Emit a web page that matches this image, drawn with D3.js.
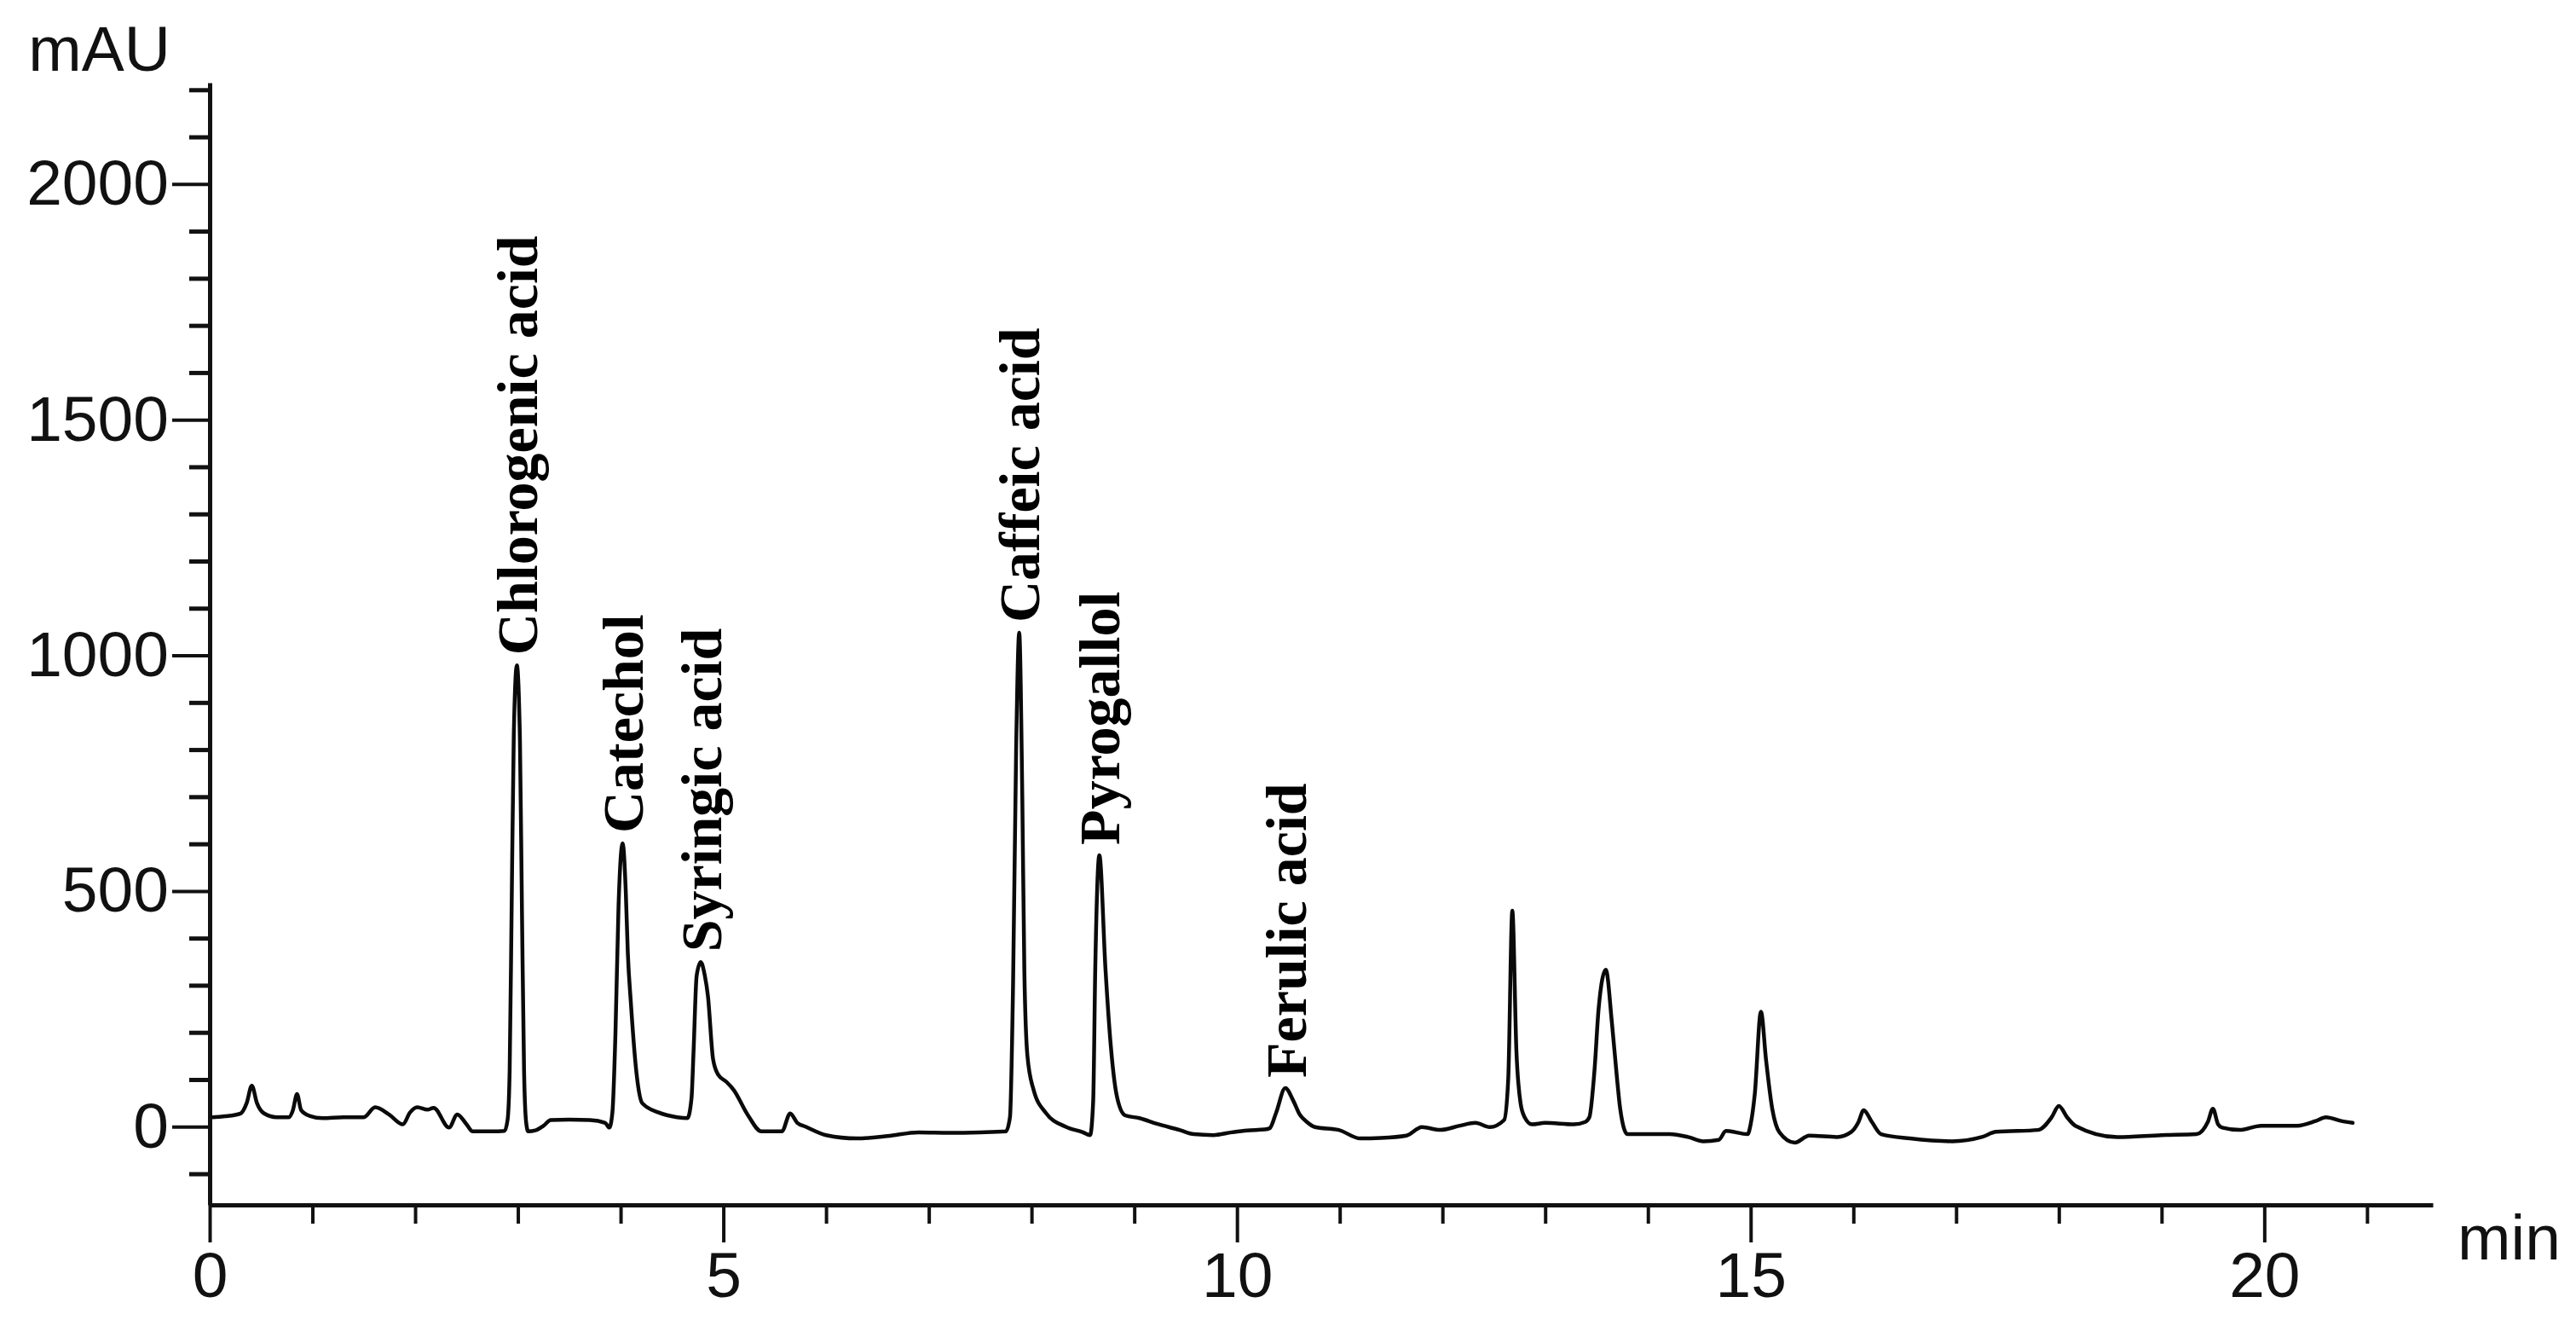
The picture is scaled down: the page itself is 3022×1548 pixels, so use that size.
<!DOCTYPE html>
<html>
<head>
<meta charset="utf-8">
<script src="https://cdn.jsdelivr.net/npm/d3@7"></script>
<style>
  html, body { margin: 0; padding: 0; background: #ffffff; }
  svg { display: block; }
</style>
</head>
<body>
<div id="chart"></div>
<script>
// DATA
const times = [
  0.03, 0.15, 0.30, 0.36, 0.41, 0.46, 0.53, 0.65, 0.77, 0.81, 0.85, 0.89, 0.97,
  1.10, 1.30, 1.50, 1.61, 1.75, 1.88, 1.95, 2.02, 2.12, 2.18, 2.33, 2.41, 2.50,
  2.56, 2.75, 2.87,
  2.90, 2.92, 2.94, 2.96, 2.99, 3.02, 3.04, 3.06, 3.08, 3.10, 3.17, 3.25, 3.32,
  3.50, 3.70, 3.85, 3.89,
  3.92, 3.95, 3.98, 4.02, 4.05, 4.07, 4.10, 4.16, 4.21, 4.37, 4.55, 4.65,
  4.69, 4.71, 4.74, 4.78, 4.82, 4.85, 4.90, 4.95, 5.03, 5.10, 5.24, 5.37, 5.57,
  5.65, 5.72, 5.80, 6.00, 6.30, 6.60, 6.90, 7.20, 7.50, 7.75,
  7.79, 7.82, 7.85, 7.88, 7.91, 7.93, 7.96, 8.02, 8.14, 8.33, 8.50, 8.57,
  8.60, 8.62, 8.66, 8.72, 8.77, 8.83, 8.91, 9.05, 9.22, 9.44, 9.58, 9.77, 9.95,
  10.10, 10.27, 10.32, 10.38,
  10.47, 10.55, 10.61, 10.68, 10.76, 10.99, 11.20, 11.40, 11.65, 11.80, 11.98,
  12.17, 12.32, 12.46, 12.60,
  12.64, 12.68, 12.72, 12.76, 12.80, 12.87, 13.00, 13.28, 13.39, 13.43, 13.48,
  13.52, 13.59, 13.65, 13.70, 13.73, 13.80, 14.21, 14.39, 14.54, 14.69, 14.76,
  14.97, 15.00, 15.04, 15.10, 15.15, 15.21, 15.28, 15.43, 15.57, 15.84, 15.98,
  16.05, 16.10, 16.18, 16.27, 16.55, 16.96, 17.25, 17.39, 17.80, 17.93, 18.00,
  18.08, 18.16, 18.57, 19.00, 19.34, 19.45, 19.50, 19.55, 19.59, 19.76, 19.97,
  20.32, 20.50, 20.60, 20.75, 20.86
];

const signal = [
  20, 22, 28, 50, 87, 50, 28, 20, 20, 35, 69, 35, 23,
  18, 20, 20, 41, 25, 5, 30, 41, 36, 40, -2, 26, 5,
  -10, -10, -9,
  15, 120, 480, 830, 979, 820, 450, 120, 10, -10, -8, 2, 14,
  15, 14, 8, -2,
  30, 200, 470, 601, 500, 369, 262, 103, 50, 30, 20, 18,
  60, 160, 320, 349, 320, 277, 143, 110, 95, 78, 24, -10, -10,
  28, 8, 0, -18, -25, -20, -12, -13, -12, -10,
  20, 300, 800, 1048, 700, 330, 150, 78, 29, 0, -12, -18,
  54, 333, 576, 333, 175, 65, 24, 18, 6, -7, -16, -18, -12,
  -8, -6, -3, 29,
  82, 54, 26, 10, -1, -7, -25, -24, -19, -1, -7,
  2, 8, -1, 14,
  100, 458, 159, 50, 20, 5, 8, 5, 10, 20, 120,
  250, 333, 219, 100, 38, -16, -16, -22, -31, -28, -9,
  -16, 5, 69, 244, 141, 38, -12, -34, -19, -22, -11,
  10, 35, 10, -16, -25, -31, -22, -11, -7, 20, 44,
  20, 2, -22, -18, -16, 10, 38, 5, -2, -7, 2,
  2, 12, 20, 12, 8
];

const peakNames = ["Chlorogenic acid", "Catechol", "Syringic acid", "Caffeic acid", "Pyrogallol", "Ferulic acid"];
const peakTimes = [2.99, 4.02, 4.78, 7.88, 8.66, 10.47];

const yMajorTicks = [0, 500, 1000, 1500, 2000];
const yMinorTicks = d3.range(-100, 2201, 100).filter(v => v % 500 !== 0);
const xMajorTicks = [0, 5, 10, 15, 20];
const xMinorTicks = d3.range(1, 22).filter(v => v % 5 !== 0);

// LAYOUT
const W = 3022;
const H = 1548;
const xExtent = [0, 21.64];
const yExtent = [-166, 2215];

const sansFont = "'Liberation Sans', Arial, Helvetica, sans-serif";
const serifFont = "'Liberation Serif', 'Times New Roman', serif";

const svg = d3.select("#chart")
  .append("svg")
  .attr("width", W)
  .attr("height", H)
  .attr("xmlns", "http://www.w3.org/2000/svg");

svg.append("rect").attr("width", W).attr("height", H).attr("fill", "#ffffff");

const xScale = d3.scaleLinear().domain(xExtent).range([246, 2854]);
const yScale = d3.scaleLinear().domain(yExtent).range([1413, 97]);

const x0 = xScale(0);
const yBase = yScale(yExtent[0]);

// -----------------------------------------------------------------------------
// AXES
// -----------------------------------------------------------------------------
// Y minor ticks
svg.append("g")
  .attr("transform", `translate(${x0},0)`)
  .call(d3.axisLeft(yScale).tickValues(yMinorTicks).tickSize(24).tickSizeOuter(0).tickFormat(""))
  .call(g => g.select(".domain").remove())
  .call(g => g.selectAll(".tick line").attr("stroke", "#111").attr("stroke-width", 5));

// Y major ticks + labels
svg.append("g")
  .attr("transform", `translate(${x0},0)`)
  .call(d3.axisLeft(yScale).tickValues(yMajorTicks).tickSize(44).tickSizeOuter(0).tickPadding(4).tickFormat(d3.format("d")))
  .call(g => g.select(".domain").attr("stroke", "#111").attr("stroke-width", 5))
  .call(g => g.selectAll(".tick line").attr("stroke", "#111").attr("stroke-width", 4))
  .call(g => g.selectAll(".tick text")
    .attr("fill", "#111")
    .style("font-family", sansFont)
    .style("font-size", "75px"));

// X minor ticks
svg.append("g")
  .attr("transform", `translate(0,${yBase})`)
  .call(d3.axisBottom(xScale).tickValues(xMinorTicks).tickSize(22).tickSizeOuter(0).tickFormat(""))
  .call(g => g.select(".domain").remove())
  .call(g => g.selectAll(".tick line").attr("stroke", "#111").attr("stroke-width", 4));

// X major ticks + labels
svg.append("g")
  .attr("transform", `translate(0,${yBase})`)
  .call(d3.axisBottom(xScale).tickValues(xMajorTicks).tickSize(44).tickSizeOuter(0).tickPadding(11).tickFormat(d3.format("d")))
  .call(g => g.select(".domain").attr("stroke", "#111").attr("stroke-width", 5))
  .call(g => g.selectAll(".tick line").attr("stroke", "#111").attr("stroke-width", 4))
  .call(g => g.selectAll(".tick text")
    .attr("fill", "#111")
    .style("font-family", sansFont)
    .style("font-size", "75px"));

// Axis units
svg.append("text")
  .attr("x", 200)
  .attr("y", 83)
  .attr("text-anchor", "end")
  .attr("fill", "#111")
  .style("font-family", sansFont)
  .style("font-size", "75px")
  .text("mAU");

svg.append("text")
  .attr("x", 2883)
  .attr("y", 1477)
  .attr("fill", "#111")
  .style("font-family", sansFont)
  .style("font-size", "75px")
  .text("min");

// -----------------------------------------------------------------------------
// TRACE
// -----------------------------------------------------------------------------
const points = times.map((t, i) => ({ t: t, v: signal[i] }));

const line = d3.line()
  .curve(d3.curveMonotoneX)
  .x(d => xScale(d.t))
  .y(d => yScale(d.v));

svg.append("path")
  .datum(points)
  .attr("d", line)
  .attr("fill", "none")
  .attr("stroke", "#0a0a0a")
  .attr("stroke-width", 4.5)
  .attr("stroke-linejoin", "round")
  .attr("stroke-linecap", "round");

// -----------------------------------------------------------------------------
// PEAK LABELS
// -----------------------------------------------------------------------------
const peakLabels = peakNames.map((name, i) => {
  const idx = d3.minIndex(times, t => Math.abs(t - peakTimes[i]));
  return { name: name, t: peakTimes[i], v: signal[idx] };
});

svg.append("g")
  .selectAll("text")
  .data(peakLabels)
  .join("text")
  .attr("transform", d => `translate(${xScale(d.t)},${yScale(d.v) - 12}) rotate(-90)`)
  .attr("dy", "0.35em")
  .attr("text-anchor", "start")
  .attr("fill", "#000")
  .style("font-family", serifFont)
  .style("font-weight", "bold")
  .style("font-size", "68px")
  .text(d => d.name);
</script>
</body>
</html>
